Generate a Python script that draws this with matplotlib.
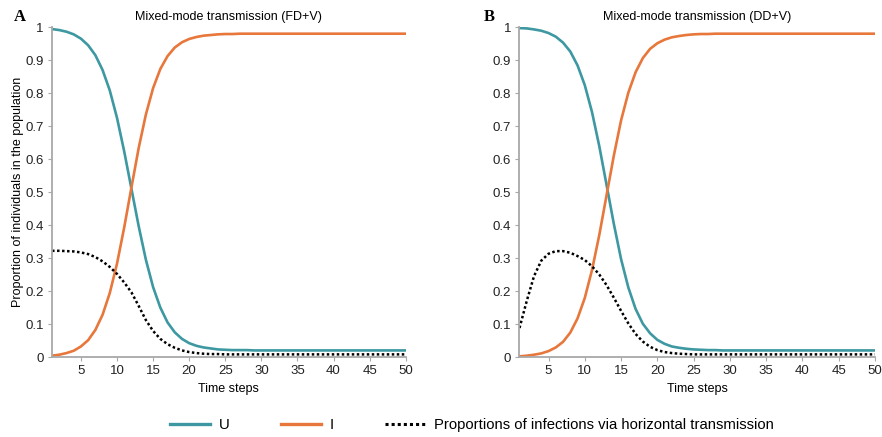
import matplotlib
matplotlib.use("Agg")
import matplotlib.pyplot as plt
from matplotlib.lines import Line2D

plt.rcParams["font.family"] = ["Liberation Sans", "DejaVu Sans"]

# Time steps 1..50
time_steps = list(range(1, 51))

# Panel A: frequency-dependent horizontal + vertical transmission
u_fd = [0.994, 0.991, 0.986, 0.978, 0.965, 0.945, 0.915, 0.870, 0.808, 0.725,
        0.623, 0.510, 0.397, 0.295, 0.212, 0.150, 0.105, 0.075, 0.055, 0.042,
        0.034, 0.029, 0.026, 0.023, 0.022, 0.021, 0.021, 0.021, 0.020, 0.020,
        0.020, 0.020, 0.020, 0.020, 0.020, 0.020, 0.020, 0.020, 0.020, 0.020,
        0.020, 0.020, 0.020, 0.020, 0.020, 0.020, 0.020, 0.020, 0.020, 0.020]
i_fd = [0.004, 0.007, 0.012, 0.019, 0.032, 0.051, 0.082, 0.128, 0.194, 0.283,
        0.393, 0.514, 0.633, 0.735, 0.815, 0.873, 0.912, 0.938, 0.954, 0.964,
        0.970, 0.974, 0.976, 0.978, 0.979, 0.979, 0.980, 0.980, 0.980, 0.980,
        0.980, 0.980, 0.980, 0.980, 0.980, 0.980, 0.980, 0.980, 0.980, 0.980,
        0.980, 0.980, 0.980, 0.980, 0.980, 0.980, 0.980, 0.980, 0.980, 0.980]
h_fd = [0.322, 0.322, 0.321, 0.320, 0.317, 0.312, 0.303, 0.290, 0.273, 0.252,
        0.226, 0.196, 0.155, 0.112, 0.079, 0.055, 0.039, 0.028, 0.020, 0.015,
        0.012, 0.010, 0.009, 0.009, 0.008, 0.008, 0.008, 0.008, 0.008, 0.008,
        0.008, 0.008, 0.008, 0.008, 0.008, 0.008, 0.008, 0.008, 0.008, 0.008,
        0.008, 0.008, 0.008, 0.008, 0.008, 0.008, 0.008, 0.008, 0.008, 0.008]

# Panel B: density-dependent horizontal + vertical transmission
u_dd = [0.997, 0.996, 0.993, 0.989, 0.982, 0.971, 0.953, 0.926, 0.884, 0.824,
        0.742, 0.639, 0.522, 0.404, 0.297, 0.211, 0.146, 0.101, 0.072, 0.052,
        0.040, 0.032, 0.028, 0.025, 0.023, 0.022, 0.021, 0.021, 0.020, 0.020,
        0.020, 0.020, 0.020, 0.020, 0.020, 0.020, 0.020, 0.020, 0.020, 0.020,
        0.020, 0.020, 0.020, 0.020, 0.020, 0.020, 0.020, 0.020, 0.020, 0.020]
i_dd = [0.002, 0.004, 0.007, 0.011, 0.018, 0.029, 0.046, 0.074, 0.117, 0.179,
        0.264, 0.370, 0.490, 0.610, 0.717, 0.801, 0.863, 0.906, 0.934, 0.951,
        0.962, 0.969, 0.973, 0.976, 0.978, 0.979, 0.979, 0.980, 0.980, 0.980,
        0.980, 0.980, 0.980, 0.980, 0.980, 0.980, 0.980, 0.980, 0.980, 0.980,
        0.980, 0.980, 0.980, 0.980, 0.980, 0.980, 0.980, 0.980, 0.980, 0.980]
h_dd = [0.088, 0.170, 0.245, 0.292, 0.313, 0.321, 0.321, 0.316, 0.306, 0.294,
        0.275, 0.250, 0.218, 0.180, 0.140, 0.102, 0.070, 0.047, 0.031, 0.021,
        0.015, 0.012, 0.010, 0.009, 0.008, 0.008, 0.008, 0.008, 0.008, 0.008,
        0.008, 0.008, 0.008, 0.008, 0.008, 0.008, 0.008, 0.008, 0.008, 0.008,
        0.008, 0.008, 0.008, 0.008, 0.008, 0.008, 0.008, 0.008, 0.008, 0.008]

titles = ["Mixed-mode transmission (FD+V)", "Mixed-mode transmission (DD+V)"]
panel_letters = ["A", "B"]
x_ticks = [5, 10, 15, 20, 25, 30, 35, 40, 45, 50]
y_ticks = [0, 0.1, 0.2, 0.3, 0.4, 0.5, 0.6, 0.7, 0.8, 0.9, 1]
y_tick_labels = ["0", "0.1", "0.2", "0.3", "0.4", "0.5", "0.6", "0.7", "0.8", "0.9", "1"]
legend_labels = ["U", "I", "Proportions of infections via horizontal transmission"]

TEAL = "#3d98a1"
ORANGE = "#e7773b"
SPINE = "#a8a8a8"

fig = plt.figure(figsize=(8.82, 4.37), dpi=100)
ax_a = fig.add_axes([0.059, 0.183, 0.401, 0.755])
ax_b = fig.add_axes([0.589, 0.183, 0.403, 0.755])

series = [(u_fd, i_fd, h_fd), (u_dd, i_dd, h_dd)]
for ax, (u, i, h), title, letter in zip([ax_a, ax_b], series, titles, panel_letters):
    ax.plot(time_steps, u, color=TEAL, lw=1.9, solid_joinstyle="round")
    ax.plot(time_steps, i, color=ORANGE, lw=1.9, solid_joinstyle="round")
    ax.plot(time_steps, h, color="black", lw=1.8, linestyle=(0, (1, 1)))
    ax.set_xlim(1, 50)
    ax.set_ylim(0, 1)
    ax.set_xticks(x_ticks)
    ax.set_yticks(y_ticks)
    ax.set_yticklabels(y_tick_labels)
    for side in ("top", "right"):
        ax.spines[side].set_visible(False)
    for side in ("left", "bottom"):
        ax.spines[side].set_color(SPINE)
        ax.spines[side].set_linewidth(1.3)
    ax.tick_params(axis="both", direction="out", length=3, width=0.8,
                   color=SPINE, labelsize=9.5, labelcolor="#222222", pad=3)
    ax.set_xlabel("Time steps", fontsize=9, labelpad=4)
    ax.set_title(title, fontsize=9, pad=5)

ax_a.set_ylabel("Proportion of individuals in the population", fontsize=9, labelpad=1)

fig.text(0.016, 0.962, "A", fontsize=12, fontweight="bold",
         family=["Liberation Serif", "DejaVu Serif"], va="center")
fig.text(0.548, 0.962, "B", fontsize=12, fontweight="bold",
         family=["Liberation Serif", "DejaVu Serif"], va="center")

handles = [
    Line2D([], [], color=TEAL, lw=2.4),
    Line2D([], [], color=ORANGE, lw=2.4),
    Line2D([], [], color="black", lw=2.2, linestyle=(0, (1, 1))),
]
fig.legend(handles, legend_labels, loc="center", bbox_to_anchor=(0.535, 0.028),
           ncol=3, frameon=False, fontsize=10.75, handlelength=2.7,
           handletextpad=0.6, columnspacing=3.4)

fig.savefig("out.png", dpi=100)
